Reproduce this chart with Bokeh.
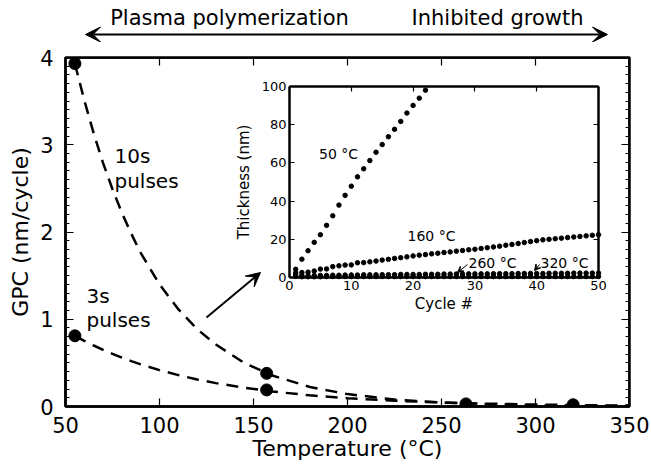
from bokeh.plotting import figure
from bokeh.layouts import column
from bokeh.models import (Range1d, LinearAxis, SingleIntervalTicker, FixedTicker,
                          Label, Arrow, VeeHead, CustomJSTickFormatter)
from bokeh.embed import file_html
from bokeh.resources import INLINE

FONT = "DejaVu Sans"

# ---------------- data: main plot ----------------
temp_10s = [55, 157, 263, 320]
gpc_10s = [3.93, 0.38, 0.03, 0.02]
temp_3s = [55, 157]
gpc_3s = [0.81, 0.19]

fit_temp = [55, 60, 65, 70, 75, 80, 85, 90, 100, 110, 120, 130, 145, 160,
            180, 200, 225, 250, 275, 300, 325, 350]
fit_10s = [3.93, 3.51, 3.13, 2.79, 2.49, 2.22, 1.98, 1.76, 1.40, 1.115, 0.887,
           0.71, 0.50, 0.355, 0.224, 0.142, 0.080, 0.045, 0.026, 0.014, 0.008, 0.0045]
fit_3s = [0.81, 0.752, 0.699, 0.65, 0.603, 0.560, 0.52, 0.483, 0.417, 0.360, 0.310,
          0.268, 0.215, 0.172, 0.128, 0.095, 0.066, 0.046, 0.032, 0.022, 0.015, 0.0104]

x_ticks = [50, 100, 150, 200, 250, 300, 350]
y_ticks = [0, 1, 2, 3, 4]

# ---------------- data: inset ----------------
cycles_50 = list(range(1, 23))
thick_50 = [4.3, 9.6, 14.0, 18.4, 22.4, 27.3, 32.3, 37.9, 43.0, 47.8, 52.7,
            56.9, 61.2, 65.6, 69.6, 73.7, 77.6, 81.7, 86.1, 90.1, 93.9, 98.1]
cycles = list(range(1, 51))
thick_160 = [2.4, 2.6, 2.8, 3.4, 4.4, 4.5, 5.7, 6.1, 6.5, 6.6, 7.7, 7.8, 8.2, 8.6,
             9.1, 9.5, 10.0, 10.4, 10.8, 11.3, 11.7, 12.0, 12.4, 12.7, 13.1, 13.4,
             13.8, 14.1, 14.5, 14.8, 15.2, 15.6, 16.0, 16.4, 16.9, 17.3, 17.8, 18.3,
             18.8, 19.3, 19.7, 20.0, 20.3, 20.6, 20.9, 21.2, 21.5, 21.8, 22.1, 22.4]
thick_260 = [1.3, 1.0, 0.9, 1.0, 1.1, 1.1, 1.2, 1.2, 1.3, 1.3, 1.3, 1.4, 1.4, 1.4,
             1.5, 1.5, 1.5, 1.6, 1.6, 1.6, 1.6, 1.7, 1.7, 1.7, 1.8, 1.8, 1.8, 1.8,
             1.9, 1.9, 1.9, 1.9, 2.0, 2.0, 2.0, 2.0, 2.1, 2.1, 2.1, 2.1, 2.1, 2.2,
             2.2, 2.2, 2.2, 2.3, 2.3, 2.3, 2.3, 2.3]
thick_320 = [0.6, 0.4, 0.4, 0.4, 0.4, 0.5, 0.5, 0.5, 0.5, 0.5, 0.5, 0.5, 0.5, 0.5,
             0.5, 0.5, 0.5, 0.5, 0.5, 0.5, 0.5, 0.5, 0.5, 0.5, 0.5, 0.5, 0.5, 0.5,
             0.5, 0.5, 0.5, 0.5, 0.5, 0.5, 0.5, 0.5, 0.5, 0.5, 0.5, 0.5, 0.5, 0.5,
             0.5, 0.5, 0.5, 0.5, 0.5, 0.5, 0.5, 0.5]
inset_x_ticks = [0, 10, 20, 30, 40, 50]
inset_y_ticks = [0, 20, 40, 60, 80, 100]

header_left = "Plasma polymerization"
header_right = "Inhibited growth"

# ---------------- layout (pixels, whole page) ----------------
W, H = 651, 471
HEADER_H = 42
FL, FR, FT, FB = 65, 629, 57, 406          # main frame
IL, IR, IT, IB = 289, 598, 86, 277         # inset frame
XMIN, XMAX, YMIN, YMAX = 50, 350, 0, 4
IXMAX, IYMAX = 50, 100


def dx(px):
    return XMIN + (px - FL) * (XMAX - XMIN) / (FR - FL)


def dy(py):
    return YMIN + (FB - py) * (YMAX - YMIN) / (FB - FT)


ippx = (IR - IL) / IXMAX
ippy = (IB - IT) / IYMAX
ix_range = Range1d(-(IL - FL) / ippx, IXMAX + (FR - IR) / ippx)
iy_range = Range1d(-(FB - IB) / ippy, IYMAX + (IT - FT) / ippy)


def idx(px):
    return (px - IL) / ippx


def idy(py):
    return (IB - py) / ippy


# ---------------- header strip ----------------
hdr = figure(width=W, height=HEADER_H, x_range=Range1d(XMIN, XMAX), y_range=Range1d(0, HEADER_H),
             output_backend="svg", toolbar_location=None, x_axis_type=None, y_axis_type=None,
             min_border_left=FL, min_border_right=W - FR, min_border_top=0, min_border_bottom=0)
hdr.outline_line_color = None
hdr.background_fill_color = "white"
hdr.border_fill_color = "white"
hdr.xgrid.visible = False
hdr.ygrid.visible = False
hdr.add_layout(Label(x=dx(229), y=HEADER_H - 17, text=header_left, text_font=FONT,
                     text_font_size="21px", text_align="center", text_baseline="middle",
                     text_color="black"))
hdr.add_layout(Label(x=dx(497), y=HEADER_H - 17, text=header_right, text_font=FONT,
                     text_font_size="21px", text_align="center", text_baseline="middle",
                     text_color="black"))
hdr.add_layout(Arrow(x_start=dx(85), y_start=HEADER_H - 34, x_end=dx(607), y_end=HEADER_H - 34,
                     line_width=2, line_color="black",
                     start=VeeHead(size=15, fill_color="black", line_color="black"),
                     end=VeeHead(size=15, fill_color="black", line_color="black")))

# ---------------- main figure ----------------
p = figure(width=W, height=H - HEADER_H, x_range=Range1d(XMIN, XMAX), y_range=Range1d(YMIN, YMAX),
           output_backend="svg", toolbar_location=None,
           x_axis_type=None, y_axis_type=None,
           min_border_left=FL, min_border_right=W - FR,
           min_border_top=FT - HEADER_H, min_border_bottom=H - FB)
p.extra_x_ranges = {"ix": ix_range}
p.extra_y_ranges = {"iy": iy_range}
p.outline_line_color = "black"
p.outline_line_width = 2.5
p.background_fill_color = "white"
p.border_fill_color = "white"

blank = CustomJSTickFormatter(code="return ''")


def style(ax, lw, tick_in, label_size, title_size, minor_in=0):
    ax.axis_line_width = lw
    ax.axis_line_color = "black"
    ax.major_tick_in = tick_in
    ax.major_tick_out = 0
    ax.major_tick_line_width = 1.2
    ax.major_tick_line_color = "black"
    ax.minor_tick_in = minor_in
    ax.minor_tick_out = 0
    ax.minor_tick_line_width = 1
    ax.minor_tick_line_color = "black" if minor_in else None
    ax.major_label_text_font = FONT
    ax.major_label_text_font_size = label_size
    ax.major_label_text_color = "black"
    ax.axis_label_text_font = FONT
    ax.axis_label_text_font_size = title_size
    ax.axis_label_text_font_style = "normal"
    ax.axis_label_text_color = "black"


# main axes
xt = SingleIntervalTicker(interval=x_ticks[1] - x_ticks[0], num_minor_ticks=0)
yt = SingleIntervalTicker(interval=y_ticks[1] - y_ticks[0], num_minor_ticks=10)

xax = LinearAxis(ticker=xt, axis_label="Temperature (°C)")
style(xax, 2.5, 8, "21px", "22px")
xax.major_label_standoff = 10
xax.axis_label_standoff = 0
p.add_layout(xax, "below")

yax = LinearAxis(ticker=yt, axis_label="GPC (nm/cycle)")
style(yax, 2.5, 8, "21px", "22px", minor_in=4)
yax.major_label_standoff = 12
yax.axis_label_standoff = 4
p.add_layout(yax, "left")

xtop = LinearAxis(ticker=xt, fixed_location=YMAX, formatter=blank)
style(xtop, 2.5, 8, "1px", "1px")
p.add_layout(xtop, "above")

yright = LinearAxis(ticker=yt, fixed_location=XMAX, formatter=blank)
style(yright, 2.5, 8, "1px", "1px", minor_in=4)
p.add_layout(yright, "right")

# main curves and points
p.line(fit_temp, fit_10s, line_color="black", line_width=2.5, line_dash="12 8")
p.line(fit_temp, fit_3s, line_color="black", line_width=2.5, line_dash="12 8")
p.scatter(temp_10s, gpc_10s, marker="circle", size=12, color="black")
p.scatter(temp_3s, gpc_3s, marker="circle", size=12, color="black")

# main annotations
for txt, px, py in [("10s", 114, 155), ("pulses", 114, 180), ("3s", 86, 295), ("pulses", 86, 319)]:
    p.add_layout(Label(x=dx(px), y=dy(py), text=txt, text_font=FONT, text_font_size="20px",
                       text_align="left", text_baseline="middle", text_color="black"))

p.add_layout(Arrow(x_start=dx(206), y_start=dy(317), x_end=dx(260), y_end=dy(272),
                   line_width=2, line_color="black",
                   end=VeeHead(size=14, fill_color="black", line_color="black")))

# ---------------- inset ----------------
ixt = FixedTicker(ticks=inset_x_ticks)
iyt = FixedTicker(ticks=inset_y_ticks)
ikw = dict(x_range_name="ix", y_range_name="iy")

ib = LinearAxis(ticker=ixt, fixed_location=0, bounds=(0, IXMAX), axis_label="Cycle #", **ikw)
style(ib, 2.5, 5, "13px", "15px")
ib.major_label_standoff = 3
ib.axis_label_standoff = 2
p.add_layout(ib, "below")

il = LinearAxis(ticker=iyt, fixed_location=0, bounds=(0, IYMAX), axis_label="Thickness (nm)", **ikw)
style(il, 2.5, 5, "13px", "15px")
il.major_label_standoff = 3
il.axis_label_standoff = 6
p.add_layout(il, "left")

itop = LinearAxis(ticker=ixt, fixed_location=IYMAX, bounds=(0, IXMAX), formatter=blank, **ikw)
style(itop, 2.5, 5, "1px", "1px")
p.add_layout(itop, "above")

iright = LinearAxis(ticker=iyt, fixed_location=IXMAX, bounds=(0, IYMAX), formatter=blank, **ikw)
style(iright, 2.5, 5, "1px", "1px")
p.add_layout(iright, "right")

for xs, ys in [(cycles_50, thick_50), (cycles, thick_160), (cycles, thick_260), (cycles, thick_320)]:
    p.scatter(xs, ys, marker="circle", size=4.5, color="black", **ikw)

for txt, px, py, al in [("50 °C", 338, 153, "center"), ("160 °C", 431, 235, "center"),
                        ("260 °C", 468, 262, "left"), ("320 °C", 540, 262, "left")]:
    p.add_layout(Label(x=idx(px), y=idy(py), text=txt, text_font=FONT, text_font_size="14px",
                       text_align=al, text_baseline="middle", text_color="black", **ikw))

for (sx, sy, ex, ey) in [(467, 264, 457, 272), (539, 264, 534, 270)]:
    p.add_layout(Arrow(x_start=idx(sx), y_start=idy(sy), x_end=idx(ex), y_end=idy(ey),
                       line_width=1, line_color="black",
                       end=VeeHead(size=6, fill_color="black", line_color="black"), **ikw))

page = column(hdr, p, spacing=0)
open("out.html", "w").write(file_html(page, INLINE))
